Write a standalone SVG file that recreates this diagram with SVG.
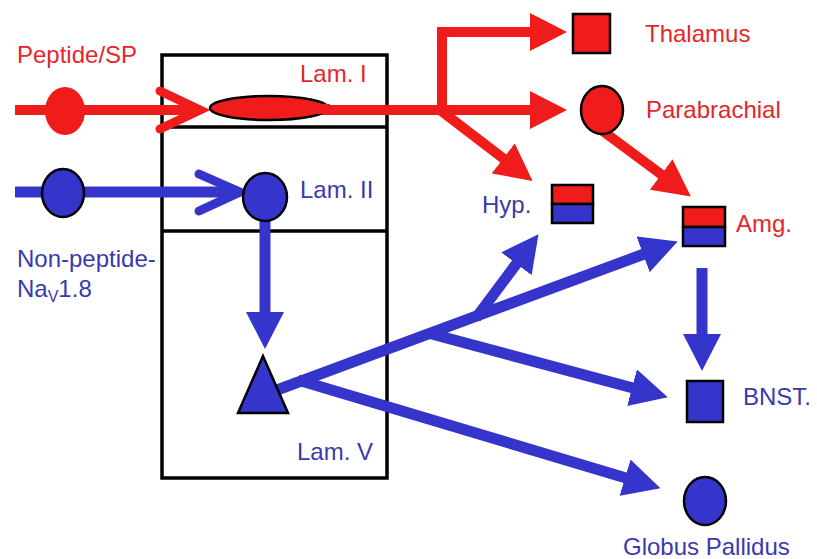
<svg xmlns="http://www.w3.org/2000/svg" width="817" height="559" viewBox="0 0 817 559">
  <style>
    text { font-family: "Liberation Sans", Arial, sans-serif; font-size: 24px; }
    .tr { fill: #e4262b; }
    .tb { fill: #3a3aae; }
    .red { fill: #f01c1c; }
    .blue { fill: #3535cc; }
    .outl { stroke: #000; stroke-width: 2.5; }
    .lr { fill: none; stroke: #f01c1c; stroke-width: 10; stroke-linejoin: miter; }
    .lb { fill: none; stroke: #3535cc; stroke-width: 11; }
    .chev { fill: none; stroke-width: 9; stroke-linecap: round; stroke-linejoin: miter; }
  </style>
  <defs>
    <marker id="ahR" markerUnits="userSpaceOnUse" markerWidth="37" markerHeight="38" viewBox="0 0 37 38" refX="1" refY="19" orient="auto">
      <path d="M0,0 L37,19 L0,38 Z" fill="#f01c1c"/>
    </marker>
    <marker id="ahB" markerUnits="userSpaceOnUse" markerWidth="37" markerHeight="38" viewBox="0 0 37 38" refX="1" refY="19" orient="auto">
      <path d="M0,0 L37,19 L0,38 Z" fill="#3535cc"/>
    </marker>
  </defs>
  <rect width="817" height="559" fill="#fff"/>

  <!-- spinal cord laminae -->
  <g id="laminae" fill="none" stroke="#000" stroke-width="3.5">
    <rect x="162" y="55" width="225" height="423"/>
    <line x1="162" y1="127" x2="387" y2="127"/>
    <line x1="162" y1="231" x2="387" y2="231"/>
  </g>

  <!-- connectors -->
  <g id="connectors">
    <!-- afferent inputs -->
    <line class="lr" x1="15" y1="110" x2="198" y2="110"/>
    <polyline class="chev" stroke="#f01c1c" points="160,91 200,110 160,129"/>
    <line class="lb" x1="15" y1="192" x2="238" y2="192"/>
    <polyline class="chev" stroke="#3535cc" points="199,174 240,192 199,211"/>
    <!-- lamina I projections -->
    <path class="lr" d="M442,110 V32 H531" marker-end="url(#ahR)"/>
    <line class="lr" x1="300" y1="110" x2="531" y2="110" marker-end="url(#ahR)"/>
    <line class="lr" x1="440" y1="110" x2="504" y2="159" marker-end="url(#ahR)"/>
    <line class="lr" x1="596" y1="126" x2="662" y2="175" marker-end="url(#ahR)"/>
    <!-- lamina II to lamina V -->
    <line class="lb" x1="265" y1="220" x2="265" y2="313" marker-end="url(#ahB)"/>
    <!-- lamina V projections -->
    <line class="lb" x1="277" y1="390" x2="644" y2="254" marker-end="url(#ahB)"/>
    <line class="lb" x1="476" y1="318" x2="517" y2="263" marker-end="url(#ahB)"/>
    <line class="lb" x1="428" y1="333" x2="633" y2="388" marker-end="url(#ahB)"/>
    <line class="lb" x1="298" y1="380" x2="626" y2="478" marker-end="url(#ahB)"/>
    <line class="lb" x1="702" y1="268" x2="702" y2="335" marker-end="url(#ahB)"/>
  </g>

  <g id="peptide-drg">
    <ellipse class="red" cx="65" cy="111" rx="20" ry="24"/>
    <text class="tr" x="17" y="63">Peptide/SP</text>
  </g>
  <g id="nonpeptide-drg">
    <ellipse class="blue outl" cx="63" cy="193" rx="21" ry="24"/>
    <text class="tb" x="17" y="267">Non-peptide-</text>
    <text class="tb" x="17" y="297">Na<tspan font-size="16" dy="5">V</tspan><tspan dy="-5">1.8</tspan></text>
  </g>
  <g id="lam1">
    <ellipse class="red outl" cx="269" cy="108" rx="59" ry="12"/>
    <line class="lr" x1="312" y1="109" x2="330" y2="109"/>
    <text class="tr" x="300" y="82">Lam. I</text>
  </g>
  <g id="lam2">
    <ellipse class="blue outl" cx="265" cy="197" rx="22" ry="24"/>
    <text class="tb" x="300" y="198">Lam. II</text>
  </g>
  <g id="lam5">
    <polygon class="blue outl" points="263,356 238,413 288,413"/>
    <text class="tb" x="297" y="460">Lam. V</text>
  </g>
  <g id="thalamus">
    <rect class="red outl" x="573" y="14" width="37" height="39"/>
    <text class="tr" x="645" y="42">Thalamus</text>
  </g>
  <g id="parabrachial">
    <ellipse class="red outl" cx="602" cy="110" rx="21" ry="24"/>
    <text class="tr" x="646" y="118">Parabrachial</text>
  </g>
  <g id="hyp">
    <rect class="red outl" x="552" y="185" width="41" height="19"/>
    <rect class="blue outl" x="552" y="204" width="41" height="19"/>
    <text class="tb" x="482" y="213">Hyp.</text>
  </g>
  <g id="amg">
    <rect class="red outl" x="683" y="207" width="42" height="20"/>
    <rect class="blue outl" x="683" y="227" width="42" height="19"/>
    <text class="tr" x="736" y="232">Amg.</text>
  </g>
  <g id="bnst">
    <rect class="blue outl" x="687" y="381" width="36" height="41"/>
    <text class="tb" x="743" y="405">BNST.</text>
  </g>
  <g id="globus-pallidus">
    <ellipse class="blue outl" cx="705" cy="501" rx="21" ry="24"/>
    <text class="tb" x="623" y="555">Globus Pallidus</text>
  </g>
</svg>
